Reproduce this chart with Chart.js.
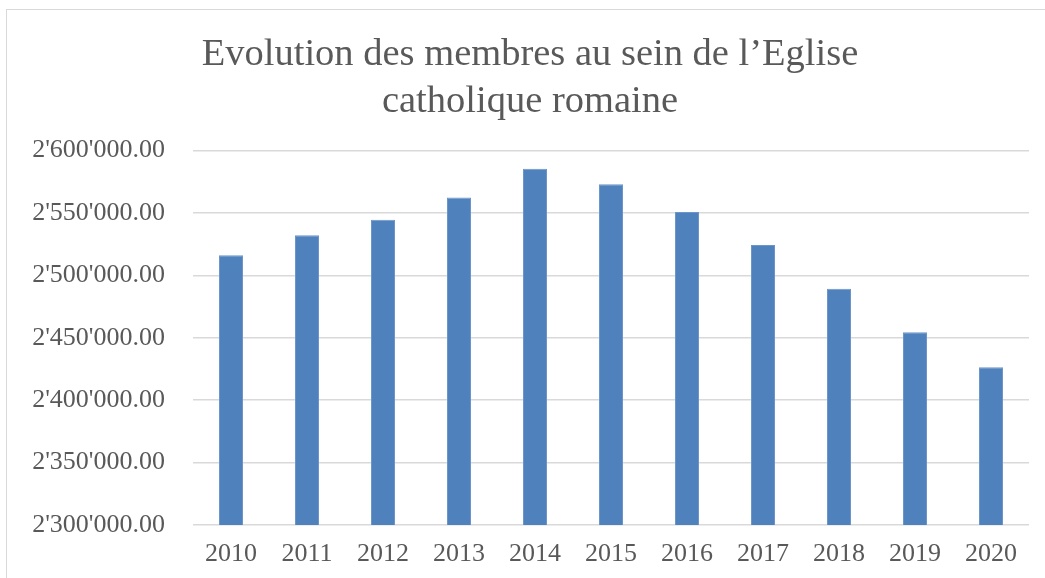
<!DOCTYPE html>
<html>
<head>
<meta charset="utf-8">
<script src="https://cdn.jsdelivr.net/npm/chart.js@4"></script>
<style>
  html, body { margin: 0; padding: 0; background: #fff; }
  #wrap { position: relative; width: 1045px; height: 578px; overflow: hidden; }
  #frame { position: absolute; left: 6px; top: 9px; width: 1100px; height: 700px; border: 1.5px solid #d9d9d9; box-sizing: border-box; }
  canvas { position: absolute; left: 0; top: 0; }
</style>
</head>
<body>
<div id="wrap">
  <div id="frame"></div>
  <canvas id="c" width="1045" height="578"></canvas>
</div>
<script>
const years = ['2010','2011','2012','2013','2014','2015','2016','2017','2018','2019','2020'];
const members = [2516000, 2532100, 2544400, 2562400, 2585400, 2573000, 2550600, 2524300, 2489300, 2454300, 2426250];
const titleLines = ['Evolution des membres au sein de l\u2019Eglise', 'catholique romaine'];
const yMin = 2300000, yMax = 2600000, yStep = 50000;

function fmt(v) {
  const s = Math.round(v).toString().replace(/\B(?=(\d{3})+(?!\d))/g, "'");
  return s + '.00';
}

const FONT = "'Liberation Serif', serif";
const TXT = '#595959';

new Chart(document.getElementById('c'), {
  type: 'bar',
  data: {
    labels: years,
    datasets: [{
      data: members,
      backgroundColor: '#4F81BD',
      borderColor: '#6C96C9',
      borderWidth: 1,
      barPercentage: 0.316,
      categoryPercentage: 1.0
    }]
  },
  options: {
    responsive: false,
    animation: false,
    devicePixelRatio: 1,
    layout: { padding: { left: 31, right: 16, top: 31, bottom: 0 } },
    plugins: {
      legend: { display: false },
      tooltip: { enabled: false },
      title: {
        display: true,
        text: titleLines,
        color: TXT,
        font: { family: FONT, size: 38.5, weight: 'normal', lineHeight: 1.22 },
        padding: { top: 0, bottom: 25.5 }
      }
    },
    scales: {
      x: {
        grid: { display: false, drawTicks: false },
        border: { display: false },
        ticks: { color: TXT, font: { family: FONT, size: 26 }, padding: 14, maxRotation: 0 },
        afterFit: (s) => { s.height = 53; }
      },
      y: {
        min: yMin, max: yMax,
        grid: { color: '#d9d9d9', lineWidth: 1.5, drawTicks: false },
        border: { display: false },
        ticks: {
          stepSize: yStep,
          color: TXT,
          font: { family: FONT, size: 26 },
          padding: 28,
          callback: (v) => fmt(v)
        },
        afterFit: (s) => { s.width = 162; }
      }
    }
  }
});
</script>
</body>
</html>
